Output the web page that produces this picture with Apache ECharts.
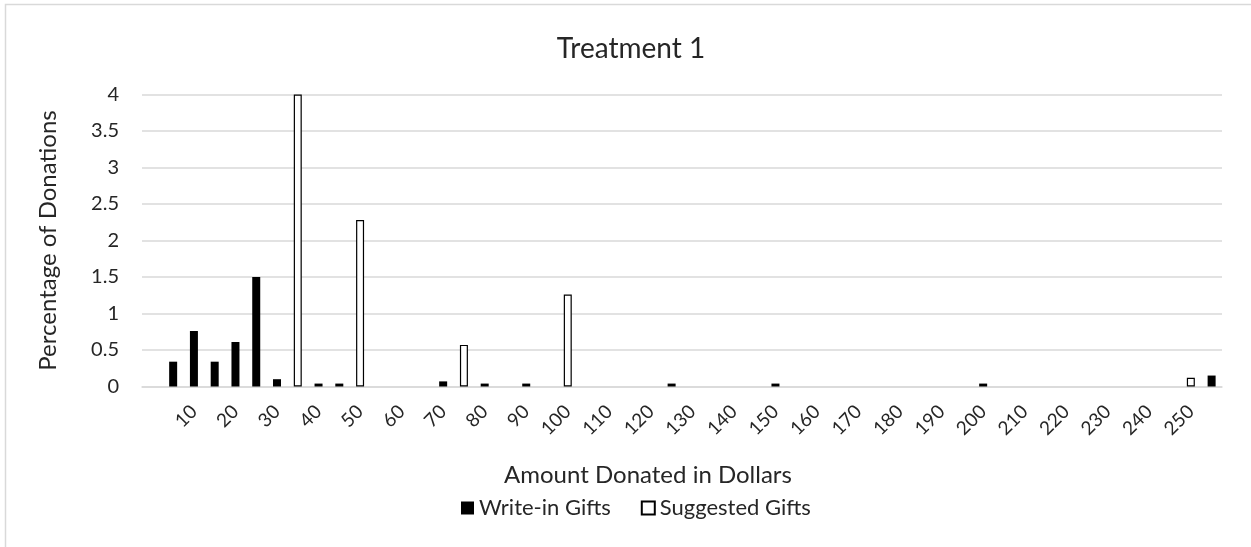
<!DOCTYPE html>
<html>
<head>
<meta charset="utf-8">
<title>Treatment 1</title>
<script src="https://cdn.jsdelivr.net/npm/echarts@6/dist/echarts.min.js"></script>
<style>
  html, body { margin: 0; padding: 0; background: #fff; }
  #chart { width: 1251px; height: 547px; }
</style>
</head>
<body>
<div id="chart"></div>
<script>
// amounts in dollars, one category every $5
const amounts = ['0', '5', '10', '15', '20', '25', '30', '35', '40', '45',
  '50', '55', '60', '65', '70', '75', '80', '85', '90', '95',
  '100', '105', '110', '115', '120', '125', '130', '135', '140', '145',
  '150', '155', '160', '165', '170', '175', '180', '185', '190', '195',
  '200', '205', '210', '215', '220', '225', '230', '235', '240', '245',
  '250', '255'];

// percentage of donations
const writeIn = [null, 0.34, 0.76, 0.34, 0.61, 1.5, 0.1, null, 0.04, 0.04,
  null, null, null, null, 0.07, null, 0.04, null, 0.04, null,
  null, null, null, null, null, 0.04, null, null, null, null,
  0.04, null, null, null, null, null, null, null, null, null,
  0.04, null, null, null, null, null, null, null, null, null,
  null, 0.15];

const suggested = [null, null, null, null, null, null, null, 4.0, null, null,
  2.28, null, null, null, null, 0.57, null, null, null, null,
  1.26, null, null, null, null, null, null, null, null, null,
  null, null, null, null, null, null, null, null, null, null,
  null, null, null, null, null, null, null, null, null, null,
  0.12, null];

const yTicks = { min: 0, max: 4, interval: 0.5 };

const font = 'Lato, "Open Sans", sans-serif';
const textColor = '#262626';
const gridColor = '#d9d9d9';

const chart = echarts.init(document.getElementById('chart'));

const option = {
  backgroundColor: '#fff',
  animation: false,
  title: [
    {
      text: 'Treatment 1',
      left: 631,
      top: 35,
      textAlign: 'center',
      padding: 0,
      textStyle: { fontFamily: font, fontSize: 28, fontWeight: 'normal', color: textColor }
    },
    {
      text: 'Amount Donated in Dollars',
      left: 648,
      top: 463,
      textAlign: 'center',
      padding: 0,
      textStyle: { fontFamily: font, fontSize: 24, fontWeight: 'normal', color: textColor }
    }
  ],
  graphic: [{
    type: 'rect',
    shape: { x: 5.5, y: 4.5, width: 1300, height: 600 },
    style: { fill: 'none', stroke: gridColor, lineWidth: 1.5 },
    silent: true
  }],
  legend: {
    left: 461,
    top: 497,
    itemWidth: 13,
    itemHeight: 13,
    itemGap: 30,
    padding: 0,
    icon: 'rect',
    textStyle: { fontFamily: font, fontSize: 22, color: textColor },
    data: ['Write-in Gifts', 'Suggested Gifts']
  },
  grid: {
    left: 142,
    right: 29,
    top: 94.5,
    bottom: 160.5,
    containLabel: false
  },
  xAxis: {
    type: 'category',
    data: amounts,
    boundaryGap: true,
    axisTick: { show: false },
    axisLine: { lineStyle: { color: gridColor, width: 1.5 } },
    axisLabel: {
      rotate: 45,
      margin: 22,
      interval: (i) => i > 0 && i % 2 === 0,
      fontFamily: font,
      fontSize: 19,
      color: textColor
    }
  },
  yAxis: {
    type: 'value',
    min: yTicks.min,
    max: yTicks.max,
    interval: yTicks.interval,
    name: 'Percentage of Donations',
    nameLocation: 'middle',
    nameRotate: 90,
    nameGap: 82,
    nameTextStyle: { fontFamily: font, fontSize: 24, color: textColor },
    axisLine: { show: false },
    axisTick: { show: false },
    axisLabel: { margin: 23, fontFamily: font, fontSize: 20, color: textColor },
    splitLine: { lineStyle: { color: gridColor, width: 1.5 } }
  },
  series: [
    {
      name: 'Write-in Gifts',
      type: 'bar',
      data: writeIn,
      barWidth: 8,
      barGap: '-100%',
      itemStyle: { color: '#000' }
    },
    {
      name: 'Suggested Gifts',
      type: 'bar',
      data: suggested,
      barWidth: 8,
      barGap: '-100%',
      itemStyle: { color: '#fff', borderColor: '#000', borderWidth: 1.2 }
    }
  ]
};

chart.setOption(option);
</script>
</body>
</html>
